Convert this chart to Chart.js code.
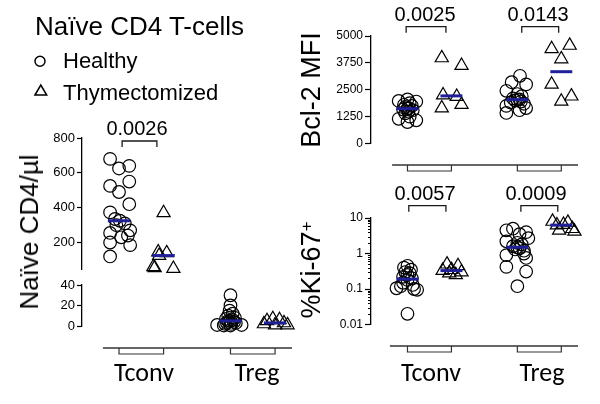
<!DOCTYPE html>
<html><head><meta charset="utf-8">
<script src="https://cdn.jsdelivr.net/npm/chart.js@4"></script>
<style>
html,body{margin:0;padding:0;background:#fff;}
#wrap{position:relative;width:600px;height:404px;overflow:hidden;background:#fff;}
canvas{position:absolute;left:0;top:0;}
.t{position:absolute;white-space:nowrap;color:#000;font-family:"Liberation Sans",Arial,sans-serif;line-height:1;}
.c{transform:translateX(-50%);}
.r{transform:translate(-50%,-50%) rotate(-90deg);}
.cat{font-family:Carlito,Lato,"Open Sans",sans-serif;font-size:26px;}
.pv{font-size:20px;}
</style></head>
<body><div id="wrap">
<canvas id="cA" width="600" height="404"></canvas>
<canvas id="cB" width="600" height="404"></canvas>
<canvas id="cC" width="600" height="404"></canvas>
<canvas id="cD" width="600" height="404"></canvas>
<svg style="position:absolute;left:0;top:0" width="120" height="110">
 <circle cx="40" cy="61.3" r="5" fill="none" stroke="#000" stroke-width="1.5"/>
 <polygon points="35,95 40.8,85 46.7,95" fill="none" stroke="#000" stroke-width="1.5"/>
</svg>
<div class="t" style="left:35px;top:13px;font-size:26px">Naïve CD4 T-cells</div>
<div class="t" style="left:63px;top:49.5px;font-size:22px">Healthy</div>
<div class="t" style="left:63px;top:81.5px;font-size:22px">Thymectomized</div>
<div class="t r" style="left:29px;top:232px;font-size:26px">Naïve CD4/µl</div>
<div class="t r" style="left:311px;top:90px;font-size:27px">Bcl-2 MFI</div>
<div class="t r" style="left:311px;top:270px;font-size:27px">%Ki-67<span style="position:relative;top:-0.5em;font-size:0.62em">+</span></div>
<div id="pA0" class="t c pv" style="left:137px;top:118px"></div>
<div id="pC0" class="t c pv" style="left:425px;top:4px"></div>
<div id="pC1" class="t c pv" style="left:538px;top:4px"></div>
<div id="pD0" class="t c pv" style="left:425px;top:182.5px"></div>
<div id="pD1" class="t c pv" style="left:536px;top:182.5px"></div>
<div id="xA0" class="t c cat" style="left:144px;top:359px"></div>
<div id="xA1" class="t c cat" style="left:257px;top:359px"></div>
<div id="xD0" class="t c cat" style="left:431px;top:359px"></div>
<div id="xD1" class="t c cat" style="left:542px;top:359px"></div>
</div>
<script>
// ---------- data ----------
const categories = ['Tconv', 'Treg'];
const groups = ['Healthy', 'Thymectomized'];

// Naive CD4 T cells per µl
const naiveTconvHealthy = [680, 625, 640, 525, 550, 490, 420, 373, 335, 325, 310, 300, 270, 255, 240, 230, 200, 185, 120];
const naiveTconvHealthyJit = [-0.2, 0, 0.23, -0.2, 0.23, 0, 0.23, -0.2, -0.09, 0.02, 0.13, -0.06, 0.25, -0.2, 0.2, 0.05, -0.2, 0.25, -0.2];
const naiveTconvThym = [370, 145, 140, 125, 60, 55, 50];
const naiveTconvThymJit = [0, -0.12, 0.07, -0.1, -0.23, -0.2, 0.22];
const naiveTregHealthy = [30, 20, 15, 12, 10, 8, 7, 6, 5, 5, 4, 3, 3, 2, 2, 1, 1, 0.5, 0.5];
const naiveTregHealthyJit = [0, 0, -0.02, 0.05, -0.05, 0.1, -0.1, 0.05, 0, -0.05, 0.08, -0.08, 0.12, -0.12, 0.02, -0.3, 0.25, 0, -0.15];
const naiveTregThym = [7, 6, 5, 3, 2, 1, 1];
const naiveTregThymJit = [-0.05, 0.1, -0.18, 0.2, -0.25, 0.28, 0];

// Bcl-2 MFI
const bcl2TconvHealthy = [2050, 1980, 1950, 1880, 1800, 1750, 1700, 1650, 1620, 1580, 1550, 1480, 1400, 1250, 1150, 1080, 1000];
const bcl2TconvHealthyJit = [0, -0.2, 0.2, 0.05, -0.08, 0.1, -0.05, 0.03, 0, -0.1, 0.12, 0.02, -0.05, 0.05, -0.2, 0.2, 0];
const bcl2TconvThym = [3980, 3620, 2250, 2180, 1810, 1650];
const bcl2TconvThymJit = [-0.22, 0.23, -0.19, 0.12, 0.23, -0.22];
const bcl2TregHealthy = [3150, 2850, 2750, 2450, 2300, 2200, 2100, 2050, 2040, 2000, 1950, 1900, 1850, 1750, 1650, 1550, 1420];
const bcl2TregHealthyJit = [0.06, -0.13, 0.2, -0.25, 0, 0.1, -0.1, 0.05, 0, -0.05, 0.08, -0.15, 0.15, -0.25, 0.2, 0.05, -0.25];
const bcl2TregThym = [4560, 4400, 3930, 2750, 2200, 1960];
const bcl2TregThymJit = [0.19, -0.22, 0, -0.22, 0.23, 0];

// %Ki-67+
const ki67TconvHealthy = [0.45, 0.4, 0.35, 0.3, 0.28, 0.25, 0.22, 0.2, 0.18, 0.15, 0.13, 0.12, 0.105, 0.1, 0.095, 0.02];
const ki67TconvHealthyJit = [0, -0.08, 0.08, -0.05, 0.05, 0, -0.1, 0.1, 0, -0.1, 0.12, -0.15, -0.25, 0.15, 0.22, 0];
const ki67TconvThym = [0.5, 0.45, 0.35, 0.33, 0.3, 0.28, 0.25];
const ki67TconvThymJit = [-0.1, 0.15, 0, -0.2, 0.23, -0.05, 0.1];
const ki67TregHealthy = [5.0, 4.5, 4.0, 3.5, 2.7, 2.2, 2.0, 1.8, 1.6, 1.5, 1.4, 1.3, 1.2, 1.0, 0.9, 0.75, 0.42, 0.31, 0.12];
const ki67TregHealthyJit = [-0.1, -0.25, 0.2, 0.05, 0.25, -0.25, 0, 0.1, -0.1, 0, 0.05, -0.05, 0.15, 0.15, -0.25, 0.2, -0.25, 0.2, 0];
const ki67TregThym = [8, 7.5, 6.5, 6.3, 5, 4.5, 4.2];
const ki67TregThymJit = [-0.2, 0.15, 0.05, -0.1, 0.25, -0.05, 0.3];

// p-values and ticks
const naivePValues = ['0.0026'];
const bcl2PValues = ['0.0025', '0.0143'];
const ki67PValues = ['0.0057', '0.0009'];
const naiveUpperTicks = [200, 400, 600, 800];
const naiveLowerTicks = [0, 20, 40];
const bcl2Ticks = [0, 1250, 2500, 3750, 5000];
const ki67Ticks = [0.01, 0.1, 1, 10];
const ki67MinorTicks = [0.02,0.03,0.04,0.05,0.06,0.07,0.08,0.09,0.2,0.3,0.4,0.5,0.6,0.7,0.8,0.9,2,3,4,5,6,7,8,9];

// ---------- text ----------
document.getElementById('pA0').textContent = naivePValues[0];
document.getElementById('pC0').textContent = bcl2PValues[0];
document.getElementById('pC1').textContent = bcl2PValues[1];
document.getElementById('pD0').textContent = ki67PValues[0];
document.getElementById('pD1').textContent = ki67PValues[1];
document.getElementById('xA0').textContent = categories[0];
document.getElementById('xA1').textContent = categories[1];
document.getElementById('xD0').textContent = categories[0];
document.getElementById('xD1').textContent = categories[1];

// ---------- helpers ----------
const POS = {TconvH: 1, TconvT: 2, TregH: 3.5, TregT: 4.5};
const BLUE = '#1f1f98';
function median(a) {
  const s = a.slice().sort((p, q) => p - q), n = s.length;
  return n % 2 ? s[(n - 1) / 2] : (s[n / 2 - 1] + s[n / 2]) / 2;
}
function pts(vals, jit, pos) { return vals.map((v, i) => ({x: pos + jit[i], y: v})); }
function pointsDs(vals, jit, pos, style, label) {
  return {type: 'scatter', label, data: pts(vals, jit, pos), pointStyle: style,
    pointRadius: style === 'circle' ? 6.3 : 7.6, pointBorderWidth: 1.2,
    pointBorderColor: '#000', pointBackgroundColor: 'rgba(0,0,0,0)', clip: false, showLine: false};
}
function medDs(vals, pos) {
  const m = median(vals);
  return {type: 'scatter', showLine: true, data: [{x: pos - 0.25, y: m}, {x: pos + 0.25, y: m}],
    borderColor: BLUE, borderWidth: 3, pointRadius: 0, clip: false, borderCapStyle: 'butt'};
}
function decorPlugin(cfg) {
  return {
    id: 'decor',
    afterDatasetsDraw(chart) {
      const ctx = chart.ctx, xs = chart.scales.x, ys = chart.scales.y, ca = chart.chartArea;
      ctx.save();
      ctx.lineWidth = 1.3; ctx.strokeStyle = '#1a1a1a';
      (cfg.top || []).forEach(b => {
        const x1 = xs.getPixelForValue(b[0]), x2 = xs.getPixelForValue(b[1]), y = ca.top + cfg.topY;
        ctx.beginPath(); ctx.moveTo(x1, y + 6); ctx.lineTo(x1, y); ctx.lineTo(x2, y); ctx.lineTo(x2, y + 6); ctx.stroke();
      });
      if (cfg.base) {
        const y = ca.bottom + cfg.base.dy;
        ctx.strokeStyle = '#333'; ctx.lineWidth = 1.5;
        ctx.beginPath(); ctx.moveTo(xs.getPixelForValue(cfg.base.from), y); ctx.lineTo(ca.right, y); ctx.stroke();
        ctx.lineWidth = 1.2;
        cfg.base.brackets.forEach(b => {
          const x1 = xs.getPixelForValue(b[0]), x2 = xs.getPixelForValue(b[1]);
          ctx.beginPath(); ctx.moveTo(x1, y); ctx.lineTo(x1, y + 6); ctx.lineTo(x2, y + 6); ctx.lineTo(x2, y); ctx.stroke();
        });
      }
      if (cfg.minor) {
        ctx.strokeStyle = '#000'; ctx.lineWidth = 1;
        cfg.minor.forEach(v => {
          const y = Math.round(ys.getPixelForValue(v)) + 0.5;
          ctx.beginPath(); ctx.moveTo(ca.left - 3, y); ctx.lineTo(ca.left, y); ctx.stroke();
        });
      }
      ctx.restore();
    }
  };
}
function makeChart(id, datasets, yOpts, pad, fontSize, tickLen, decor) {
  return new Chart(document.getElementById(id), {
    type: 'scatter',
    data: {datasets},
    options: {
      responsive: false, animation: false, devicePixelRatio: 1,
      layout: {padding: pad},
      plugins: {legend: {display: false}, tooltip: {enabled: false}},
      scales: {
        x: {type: 'linear', display: false, min: 0.17, max: 4.88},
        y: Object.assign({
          grid: {display: true, drawOnChartArea: false, drawTicks: true, tickLength: tickLen, color: '#000', tickWidth: 1.2},
          border: {display: true, color: '#000', width: 1.3},
          ticks: {color: '#000', padding: 2, font: {family: '"Liberation Sans", Arial, sans-serif', size: fontSize},
            callback: v => String(v)},
          afterFit: s => { s.width = 50; }
        }, yOpts)
      }
    },
    plugins: [decorPlugin(decor)]
  });
}
function fixedTicks(arr) { return s => { s.ticks = arr.map(v => ({value: v})); }; }

// ---------- left panel: upper segment (Tconv) ----------
makeChart('cA', [
  medDs(naiveTconvHealthy, POS.TconvH), medDs(naiveTconvThym, POS.TconvT),
  pointsDs(naiveTconvHealthy, naiveTconvHealthyJit, POS.TconvH, 'circle', groups[0]),
  pointsDs(naiveTconvThym, naiveTconvThymJit, POS.TconvT, 'triangle', groups[1])
], {type: 'linear', min: 48, max: 800, afterBuildTicks: fixedTicks(naiveUpperTicks)},
  {left: 32, top: 138, right: 308, bottom: 135}, 13, 5,
  {top: [[1.07, 1.85]], topY: 3});

// ---------- left panel: lower segment (Treg) ----------
makeChart('cB', [
  medDs(naiveTregHealthy, POS.TregH), medDs(naiveTregThym, POS.TregT),
  pointsDs(naiveTregHealthy, naiveTregHealthyJit, POS.TregH, 'circle', groups[0]),
  pointsDs(naiveTregThym, naiveTregThymJit, POS.TregT, 'triangle', groups[1])
], {type: 'linear', min: 0, max: 40, afterBuildTicks: fixedTicks(naiveLowerTicks)},
  {left: 32, top: 285, right: 308, bottom: 78}, 13, 5,
  {base: {dy: 22, from: 0.64, brackets: [[POS.TconvH, POS.TconvT], [POS.TregH, POS.TregT]]}});

// ---------- right top: Bcl-2 ----------
makeChart('cC', [
  medDs(bcl2TconvHealthy, POS.TconvH), medDs(bcl2TconvThym, POS.TconvT),
  medDs(bcl2TregHealthy, POS.TregH), medDs(bcl2TregThym, POS.TregT),
  pointsDs(bcl2TconvHealthy, bcl2TconvHealthyJit, POS.TconvH, 'circle', groups[0]),
  pointsDs(bcl2TconvThym, bcl2TconvThymJit, POS.TconvT, 'triangle', groups[1]),
  pointsDs(bcl2TregHealthy, bcl2TregHealthyJit, POS.TregH, 'circle', groups[0]),
  pointsDs(bcl2TregThym, bcl2TregThymJit, POS.TregT, 'triangle', groups[1])
], {type: 'linear', min: 0, max: 5000, afterBuildTicks: fixedTicks(bcl2Ticks)},
  {left: 321, top: 36, right: 22, bottom: 260.5}, 12, 6,
  {top: [[0.97, 1.875], [3.6, 4.44]], topY: -9.3,
   base: {dy: 21.5, from: 0.65, brackets: [[POS.TconvH, POS.TconvT], [POS.TregH, POS.TregT]]}});

// ---------- right bottom: Ki-67 ----------
makeChart('cD', [
  medDs(ki67TconvHealthy, POS.TconvH), medDs(ki67TconvThym, POS.TconvT),
  medDs(ki67TregHealthy, POS.TregH), medDs(ki67TregThym, POS.TregT),
  pointsDs(ki67TconvHealthy, ki67TconvHealthyJit, POS.TconvH, 'circle', groups[0]),
  pointsDs(ki67TconvThym, ki67TconvThymJit, POS.TconvT, 'triangle', groups[1]),
  pointsDs(ki67TregHealthy, ki67TregHealthyJit, POS.TregH, 'circle', groups[0]),
  pointsDs(ki67TregThym, ki67TregThymJit, POS.TregT, 'triangle', groups[1])
], {type: 'logarithmic', min: 0.01, max: 10, afterBuildTicks: fixedTicks(ki67Ticks)},
  {left: 321, top: 218, right: 22, bottom: 79.5}, 12, 6,
  {top: [[1.03, 1.875], [3.58, 4.42]], topY: -12.3, minor: ki67MinorTicks,
   base: {dy: 21.5, from: 0.6, brackets: [[POS.TconvH, POS.TconvT], [POS.TregH, POS.TregT]]}});
</script>
</body></html>
